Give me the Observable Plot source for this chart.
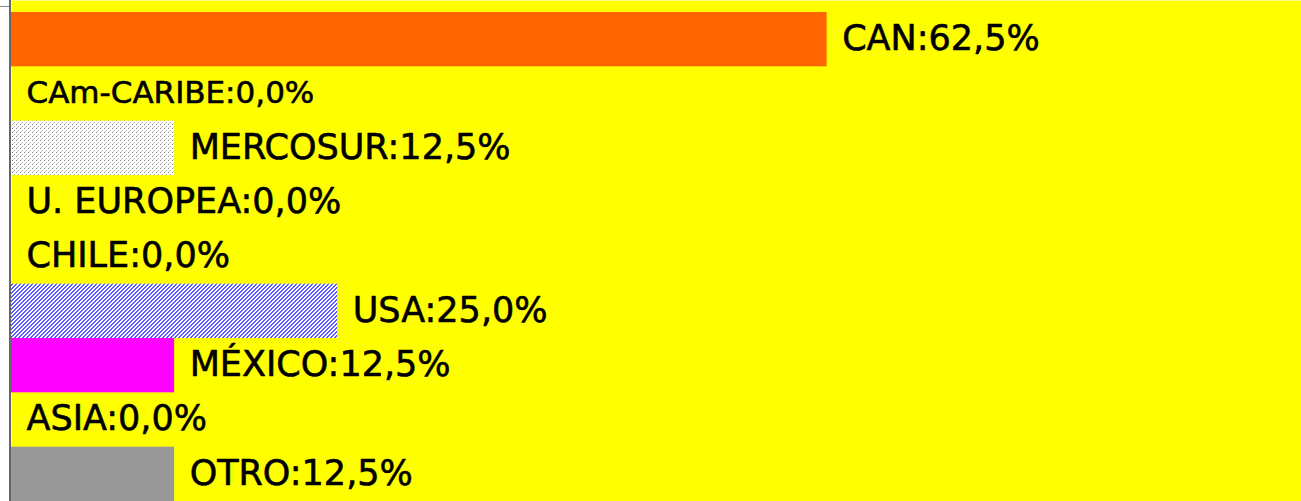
<!DOCTYPE html>
<html>
<head>
<meta charset="utf-8">
<script src="https://cdn.jsdelivr.net/npm/d3@7"></script>
<script src="https://cdn.jsdelivr.net/npm/@observablehq/plot@0.6"></script>
<style>
  html, body { margin: 0; padding: 0; background: #ffffff; overflow: hidden; }
  #chart { width: 1301px; height: 501px; }
  #chart svg { display: block; width: 1301px; height: 501px; max-width: none; }
</style>
</head>
<body>
<div id="chart"></div>
<script>
const categories = ["CAN", "CAm-CARIBE", "MERCOSUR", "U. EUROPEA", "CHILE", "USA", "MÉXICO", "ASIA", "OTRO"];
const shares = [62.5, 0.0, 12.5, 0.0, 0.0, 25.0, 12.5, 0.0, 12.5];
const barFills = ["#ff6600", "#ffffff", "url(#patMercosur)", "#ffffff", "#ffffff", "url(#patUSA)", "#ff00ff", "#ffffff", "#999999"];

const data = categories.map((c, i) => ({cat: c, value: shares[i]}));
const fmt = v => v.toFixed(1).replace(".", ",") + "%";

const W = 1301, H = 501;

const chart = Plot.plot({
  width: W,
  height: H,
  marginLeft: 11,
  marginRight: 0,
  marginTop: 0,
  marginBottom: 0,
  style: {background: "#ffffff", fontFamily: "'DejaVu Sans', sans-serif"},
  x: {domain: [0, 100], range: [11, 1316], axis: null},
  y: {domain: categories, range: [12, 501], padding: 0, round: false, axis: null},
  color: {type: "ordinal", domain: categories, range: barFills},
  marks: [
    Plot.frame({fill: "#ffff00", stroke: null}),
    Plot.barX(data.filter(d => d.value > 0), {x: "value", y: "cat", fill: "cat", inset: 0}),
    Plot.text(data, {
      x: "value", y: "cat",
      text: d => `${d.cat}:${fmt(d.value)}`,
      dx: 15, dy: -1,
      textAnchor: "start",
      fill: "#000000",
      stroke: "#000000",
      strokeWidth: 0.6,
      fontSize: d => d.cat === "CAm-CARIBE" ? 31 : 35
    }),
    Plot.ruleX([0], {stroke: "#333333", strokeWidth: 1.5, dx: -1.5})
  ]
});

// pattern definitions used by the bar fills
const svgSel = d3.select(chart);
const defs = svgSel.insert("defs", ":first-child");
const pm = defs.append("pattern").attr("id", "patMercosur").attr("patternUnits", "userSpaceOnUse")
  .attr("width", 4).attr("height", 4);
pm.append("rect").attr("width", 4).attr("height", 4).attr("fill", "#ffffff");
pm.append("rect").attr("x", 0).attr("y", 0).attr("width", 1).attr("height", 1).attr("fill", "#888888");
pm.append("rect").attr("x", 2).attr("y", 2).attr("width", 1).attr("height", 1).attr("fill", "#aaaaaa");
pm.append("rect").attr("x", 1).attr("y", 3).attr("width", 1).attr("height", 1).attr("fill", "#cccccc");
const pu = defs.append("pattern").attr("id", "patUSA").attr("patternUnits", "userSpaceOnUse")
  .attr("width", 4).attr("height", 4);
pu.append("rect").attr("width", 4).attr("height", 4).attr("fill", "#ffffff");
[[0,3],[1,2],[2,1],[3,0],[1,3],[2,2],[3,1],[0,0]].forEach(([px, py]) =>
  pu.append("rect").attr("x", px).attr("y", py).attr("width", 1).attr("height", 1).attr("fill", "#5a5aff"));

// small axis tick at the top-left
svgSel.append("line").attr("x1", 0).attr("x2", 9).attr("y1", 6.5).attr("y2", 6.5)
  .attr("stroke", "#888888").attr("stroke-width", 1);

document.getElementById("chart").appendChild(chart);
</script>
</body>
</html>
